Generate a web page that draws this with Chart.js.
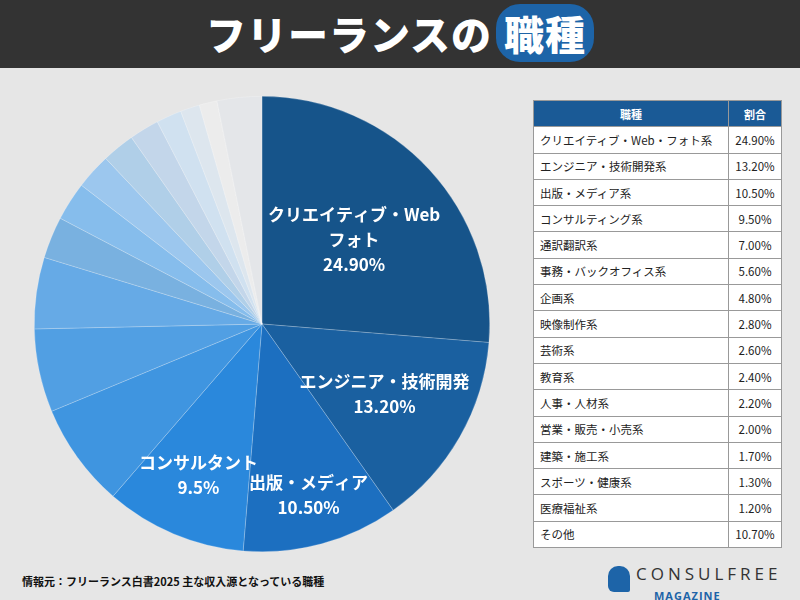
<!DOCTYPE html>
<html><head><meta charset="utf-8">
<script src="https://cdn.jsdelivr.net/npm/chart.js@4"></script>
<style>
body{margin:0;width:800px;height:600px;background:#e6e6e6;font-family:"Noto Sans CJK JP","Noto Sans",sans-serif;position:relative;overflow:hidden}
#top{height:68px;background:#333;color:#fff;font-weight:900;font-size:40px;text-align:center;line-height:66px;letter-spacing:1px}
#top span{background:#1d64a8;border-radius:24px;padding:0 8px;margin-left:4px}
#pie{position:absolute;left:32px;top:94px;width:460px;height:460px}
table{position:absolute;left:533px;top:100px;width:249px;border-collapse:collapse;font-size:11.5px;background:#fff}
td,th{border:1px solid #999;height:25.3px;padding:0 6px;color:#222}
th{background:#1a5a96;color:#fff;font-weight:bold;font-size:11px}
td.v{text-align:center;width:40px}
#src{position:absolute;left:22px;top:573px;font-size:11px;font-weight:bold;color:#111}
#logo{position:absolute;left:608px;top:564px;font-size:17px;letter-spacing:4px;color:#333;font-family:"Open Sans",sans-serif;line-height:20px}
#logo small{display:block;font-size:11px;line-height:12px;letter-spacing:1px;color:#1d64a8;font-weight:bold;margin:-2px 0 0 46px}
#logo i{display:inline-block;width:22px;height:26px;background:#1d64a8;border-radius:10px 10px 2px 6px;vertical-align:-12px;margin-right:6px}
</style></head><body>
<div id="top">フリーランスの<span>職種</span></div>
<div id="pie"><canvas id="c"></canvas></div>
<table id="tbl"><thead><tr><th>職種</th><th>割合</th></tr></thead><tbody></tbody></table>
<div id="src">情報元：フリーランス白書2025 主な収入源となっている職種</div>
<div id="logo"><i></i>CONSULFREE<small>MAGAZINE</small></div>
<script>
const categories = ['クリエイティブ・Web・フォト系','エンジニア・技術開発系','出版・メディア系','コンサルティング系','通訳翻訳系','事務・バックオフィス系','企画系','映像制作系','芸術系','教育系','人事・人材系','営業・販売・小売系','建築・施工系','スポーツ・健康系','医療福祉系','その他'];
const values = [24.9,13.2,10.5,9.5,7.0,5.6,4.8,2.8,2.6,2.4,2.2,2.0,1.7,1.3,1.2,10.7];
// the pie in the picture draws その他 much smaller than the table value
const pieValues = [24.9,13.2,10.5,9.5,7.0,5.6,4.8,2.8,2.6,2.4,2.2,2.0,1.7,1.3,1.2,3.0];
const colors = ['#16548a','#1a60a0','#1c6fc0','#2a88dc','#3f95e0','#519fe3','#66aae6','#79b1e0','#86bdec','#9cc7ee','#b0cfe8','#c3d6ea','#d0e1f0','#dde6ee','#ececec','#e4e6e9'];
const pieLabels = [['クリエイティブ・Web','フォト','24.90%'],['エンジニア・技術開発','13.20%'],['出版・メディア','10.50%'],['コンサルタント','9.5%']];
const labelRadius = [0.55,0.62,0.78,0.72];

const tb = document.querySelector('#tbl tbody');
categories.forEach((c,i)=>{
  tb.insertAdjacentHTML('beforeend',`<tr><td>${c}</td><td class="v">${values[i].toFixed(2)}%</td></tr>`);
});

const labelPlugin = {
  id:'lbl',
  afterDatasetsDraw(chart){
    const ctx = chart.ctx, meta = chart.getDatasetMeta(0);
    ctx.save();
    ctx.fillStyle='#fff'; ctx.textAlign='center'; ctx.textBaseline='middle';
    ctx.font='bold 17px "Noto Sans CJK JP"';
    pieLabels.forEach((lines,i)=>{
      const a = meta.data[i];
      const mid = (a.startAngle+a.endAngle)/2, r = a.outerRadius*labelRadius[i];
      const x = a.x+Math.cos(mid)*r, y = a.y+Math.sin(mid)*r;
      lines.forEach((t,j)=>ctx.fillText(t,x,y+(j-(lines.length-1)/2)*25));
    });
    ctx.restore();
  }
};

new Chart(document.getElementById('c'),{
  type:'pie',
  data:{labels:categories,datasets:[{data:pieValues,backgroundColor:colors,borderColor:'rgba(255,255,255,0.35)',borderWidth:0.6}]},
  options:{responsive:true,maintainAspectRatio:false,animation:false,layout:{padding:2},
    plugins:{legend:{display:false},tooltip:{enabled:false}}},
  plugins:[labelPlugin]
});
</script>
</body></html>
